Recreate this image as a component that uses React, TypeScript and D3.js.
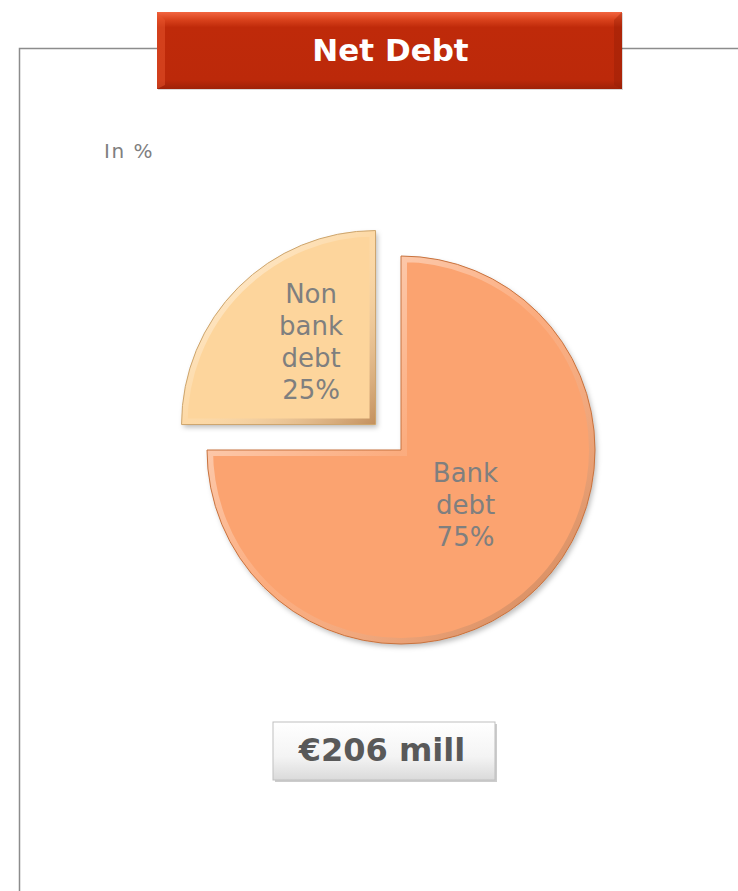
import { useEffect, useRef } from "react";
import * as d3 from "d3";

const categories = ["Bank debt", "Non bank debt"];
const shares = [75, 25];
const labelLines = [["Bank", "debt", "75%"], ["Non", "bank", "debt", "25%"]];
const sliceColors = ["#FBA36F", "#FDD59C"];
const edgeColors = ["#C8733F", "#CDA56D"];
const chartTitle = "Net Debt";
const unitNote = "In %";
const totalLabel = "€206 mill";

export default function App() {
  const svgRef = useRef<SVGSVGElement>(null);

  useEffect(() => {
    if (!svgRef.current) return;
    const svg = d3.select(svgRef.current);
    svg.selectAll("*").remove();

    const width = 738;
    const height = 891;
    const font = "'DejaVu Sans', Verdana, sans-serif";

    const defs = svg.append("defs");

    // title bevel gradient
    const tg = defs.append("linearGradient").attr("id", "titleGrad").attr("x1", 0).attr("y1", 0).attr("x2", 0).attr("y2", 1);
    tg.append("stop").attr("offset", "0%").attr("stop-color", "#F26540");
    tg.append("stop").attr("offset", "10%").attr("stop-color", "#D9421C");
    tg.append("stop").attr("offset", "20%").attr("stop-color", "#BF2A0A");
    tg.append("stop").attr("offset", "88%").attr("stop-color", "#BC290A");
    tg.append("stop").attr("offset", "100%").attr("stop-color", "#9E2208");

    const bg = defs.append("linearGradient").attr("id", "boxGrad").attr("x1", 0).attr("y1", 0).attr("x2", 0).attr("y2", 1);
    bg.append("stop").attr("offset", "0%").attr("stop-color", "#FFFFFF");
    bg.append("stop").attr("offset", "60%").attr("stop-color", "#F4F4F4");
    bg.append("stop").attr("offset", "100%").attr("stop-color", "#DADADA");

    const shadow = defs.append("filter").attr("id", "shadow").attr("x", "-10%").attr("y", "-10%").attr("width", "130%").attr("height", "130%");
    shadow.append("feDropShadow").attr("dx", 2).attr("dy", 3).attr("stdDeviation", 2.5).attr("flood-color", "#000").attr("flood-opacity", 0.25);

    const bevel = defs.append("linearGradient").attr("id", "bevelGrad").attr("x1", 0).attr("y1", 0).attr("x2", 1).attr("y2", 1);
    bevel.append("stop").attr("offset", "0%").attr("stop-color", "#FFFFFF").attr("stop-opacity", 0.7);
    bevel.append("stop").attr("offset", "50%").attr("stop-color", "#FFFFFF").attr("stop-opacity", 0.1);
    bevel.append("stop").attr("offset", "100%").attr("stop-color", "#7A3A10").attr("stop-opacity", 0.45);

    // frame
    svg.append("path")
      .attr("d", `M19.5,${height} V48.5 H${width}`)
      .attr("fill", "none")
      .attr("stroke", "#8C8C8C")
      .attr("stroke-width", 1.5);

    // title box
    const tx = 157, ty = 12, tw = 465, th = 77;
    svg.append("rect").attr("x", tx + 1).attr("y", ty + 1).attr("width", tw).attr("height", th)
      .attr("fill", "#000").attr("opacity", 0.15);
    svg.append("rect").attr("x", tx).attr("y", ty).attr("width", tw).attr("height", th)
      .attr("fill", "url(#titleGrad)");
    svg.append("path")
      .attr("d", `M${tx},${ty} L${tx + 8},${ty + 8} L${tx + 8},${ty + th - 4} L${tx},${ty + th} Z`)
      .attr("fill", "#E8552E").attr("opacity", 0.5);
    svg.append("path")
      .attr("d", `M${tx + tw},${ty} L${tx + tw - 8},${ty + 8} L${tx + tw - 8},${ty + th - 4} L${tx + tw},${ty + th} Z`)
      .attr("fill", "#8E1E06").attr("opacity", 0.35);
    svg.append("text")
      .attr("x", tx + tw / 2 + 1).attr("y", 52)
      .attr("text-anchor", "middle").attr("dominant-baseline", "middle")
      .attr("fill", "#FFFFFF").attr("font-family", font).attr("font-weight", "bold")
      .attr("font-size", 31)
      .text(chartTitle);

    svg.append("text")
      .attr("x", 104).attr("y", 158)
      .attr("fill", "#7F7F7F").attr("font-family", font).attr("font-size", 20)
      .attr("letter-spacing", 1.5)
      .text(unitNote);

    // pie
    const cx = 401, cy = 450, r = 194;
    const explode = 36;
    const pie = d3.pie<number>().sort(null).value(d => d)(shares);
    const arc = d3.arc<d3.PieArcDatum<number>>().innerRadius(0).outerRadius(r);
    const labelArc = d3.arc<d3.PieArcDatum<number>>().innerRadius(r * 0.5).outerRadius(r * 0.5);

    const slices = svg.append("g").attr("transform", `translate(${cx},${cy})`)
      .selectAll("g")
      .data(pie)
      .join("g")
      .attr("transform", (d, i) => {
        if (i === 0) return "translate(0,0)";
        const mid = (d.startAngle + d.endAngle) / 2;
        return `translate(${Math.sin(mid) * explode},${-Math.cos(mid) * explode})`;
      });

    slices.append("clipPath")
      .attr("id", (d, i) => `clip${i}`)
      .append("path")
      .attr("d", d => arc(d) as string);

    slices.append("path")
      .attr("d", d => arc(d) as string)
      .attr("fill", (d, i) => sliceColors[i])
      .attr("filter", "url(#shadow)");

    slices.append("path")
      .attr("d", d => arc(d) as string)
      .attr("fill", "none")
      .attr("stroke", "url(#bevelGrad)")
      .attr("stroke-width", 12)
      .attr("clip-path", (d, i) => `url(#clip${i})`);

    slices.append("path")
      .attr("d", d => arc(d) as string)
      .attr("fill", "none")
      .attr("stroke", (d, i) => edgeColors[i])
      .attr("stroke-width", 1);

    slices.append("text")
      .attr("transform", d => {
        const [x, y] = labelArc.centroid(d);
        // labels sit a little higher and nearer the vertical axis than the centroid
        return `translate(${x * 0.94},${y - 14})`;
      })
      .attr("text-anchor", "middle")
      .attr("fill", "#7F7F7F")
      .attr("font-family", font)
      .attr("font-size", 26)
      .attr("aria-label", (d, i) => categories[i])
      .selectAll("tspan")
      .data((d, i) => labelLines[i].map((t, j, arr) => ({ t, j, n: arr.length })))
      .join("tspan")
      .attr("x", 0)
      .attr("y", o => (o.j - (o.n - 1) / 2) * 32 + 9)
      .text(o => o.t);

    // total box
    const bx = 273, by = 722, bw = 222, bh = 58;
    svg.append("rect").attr("x", bx + 2).attr("y", by + 2).attr("width", bw).attr("height", bh)
      .attr("fill", "#000").attr("opacity", 0.2);
    svg.append("rect").attr("x", bx).attr("y", by).attr("width", bw).attr("height", bh)
      .attr("fill", "url(#boxGrad)").attr("stroke", "#BFBFBF").attr("stroke-width", 1);
    svg.append("text")
      .attr("x", bx + bw / 2 - 2).attr("y", by + bh / 2 + 1)
      .attr("text-anchor", "middle").attr("dominant-baseline", "middle")
      .attr("fill", "#595959").attr("font-family", font).attr("font-weight", "bold")
      .attr("font-size", 32)
      .text(totalLabel);
  }, []);

  return (
    <div style={{ position: "absolute", top: 0, left: 0, background: "#fff" }}>
      <svg ref={svgRef} width={738} height={891} style={{ display: "block" }} />
    </div>
  );
}
